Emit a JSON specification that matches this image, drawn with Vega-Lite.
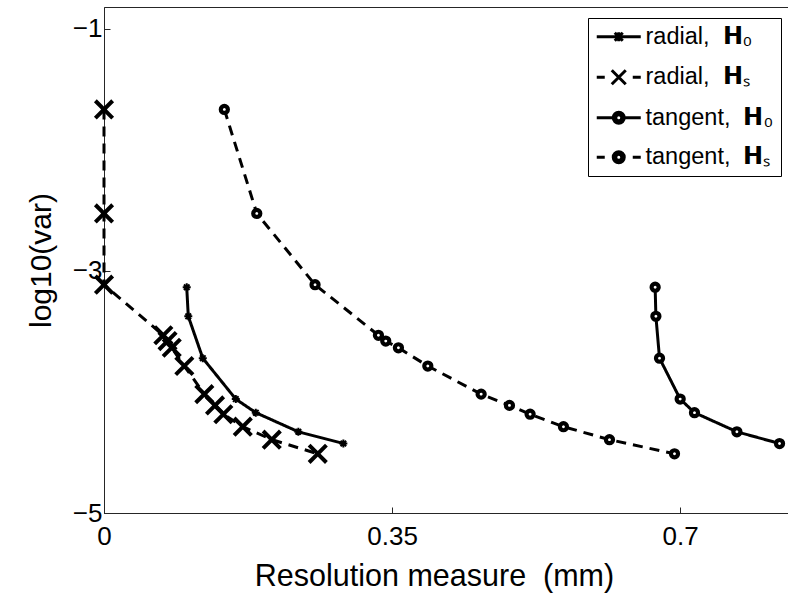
{
  "$schema": "https://vega.github.io/schema/vega-lite/v6.json",
  "width": 684,
  "height": 506,
  "autosize": {"type": "none"},
  "padding": {"left": 104, "top": 7, "right": 0, "bottom": 84},
  "background": "white",
  "config": {
    "view": {"stroke": "#262626", "strokeWidth": 1},
    "font": "Liberation Sans",
    "axis": {
      "domainColor": "#262626", "tickColor": "#262626", "labelColor": "black", "titleColor": "black",
      "labelFont": "Liberation Sans", "titleFont": "Liberation Sans", "labelFontSize": 26, "titleFontSize": 30,
      "titleFontWeight": "normal", "grid": false, "tickSize": -6, "labelPadding": 8
    }
  },
  "data": {"values": [
    {"series": "rH0", "i": 1, "x": 0.1005, "y": -3.135},
    {"series": "rH0", "i": 2, "x": 0.1024, "y": -3.375},
    {"series": "rH0", "i": 3, "x": 0.1200, "y": -3.721},
    {"series": "rH0", "i": 4, "x": 0.1601, "y": -4.059},
    {"series": "rH0", "i": 5, "x": 0.1844, "y": -4.171},
    {"series": "rH0", "i": 6, "x": 0.2361, "y": -4.329},
    {"series": "rH0", "i": 7, "x": 0.2908, "y": -4.426},
    {"series": "rHs", "i": 1, "x": 0.0, "y": -1.666},
    {"series": "rHs", "i": 2, "x": 0.0, "y": -2.525},
    {"series": "rHs", "i": 3, "x": 0.0, "y": -3.114},
    {"series": "rHs", "i": 4, "x": 0.0721, "y": -3.532},
    {"series": "rHs", "i": 5, "x": 0.0772, "y": -3.580},
    {"series": "rHs", "i": 6, "x": 0.0823, "y": -3.635},
    {"series": "rHs", "i": 7, "x": 0.0976, "y": -3.786},
    {"series": "rHs", "i": 8, "x": 0.1219, "y": -4.018},
    {"series": "rHs", "i": 9, "x": 0.1349, "y": -4.111},
    {"series": "rHs", "i": 10, "x": 0.1450, "y": -4.184},
    {"series": "rHs", "i": 11, "x": 0.1686, "y": -4.287},
    {"series": "rHs", "i": 12, "x": 0.2038, "y": -4.394},
    {"series": "rHs", "i": 13, "x": 0.2597, "y": -4.511},
    {"series": "tH0", "i": 1, "x": 0.6696, "y": -3.135},
    {"series": "tH0", "i": 2, "x": 0.6705, "y": -3.375},
    {"series": "tH0", "i": 3, "x": 0.6749, "y": -3.721},
    {"series": "tH0", "i": 4, "x": 0.7000, "y": -4.059},
    {"series": "tH0", "i": 5, "x": 0.7174, "y": -4.171},
    {"series": "tH0", "i": 6, "x": 0.7689, "y": -4.329},
    {"series": "tH0", "i": 7, "x": 0.8207, "y": -4.426},
    {"series": "tHs", "i": 1, "x": 0.1462, "y": -1.666},
    {"series": "tHs", "i": 2, "x": 0.1856, "y": -2.525},
    {"series": "tHs", "i": 3, "x": 0.2564, "y": -3.114},
    {"series": "tHs", "i": 4, "x": 0.3334, "y": -3.532},
    {"series": "tHs", "i": 5, "x": 0.3423, "y": -3.580},
    {"series": "tHs", "i": 6, "x": 0.3577, "y": -3.635},
    {"series": "tHs", "i": 7, "x": 0.3934, "y": -3.786},
    {"series": "tHs", "i": 8, "x": 0.4582, "y": -4.018},
    {"series": "tHs", "i": 9, "x": 0.4926, "y": -4.111},
    {"series": "tHs", "i": 10, "x": 0.5177, "y": -4.184},
    {"series": "tHs", "i": 11, "x": 0.5582, "y": -4.287},
    {"series": "tHs", "i": 12, "x": 0.6141, "y": -4.394},
    {"series": "tHs", "i": 13, "x": 0.6931, "y": -4.511}
  ]},
  "resolve": {"scale": {"shape": "independent"}, "legend": {"shape": "independent"}},
  "layer": [
    {
      "mark": {"type": "line", "strokeWidth": 3, "color": "black"},
      "encoding": {
        "x": {"field": "x", "type": "quantitative", "scale": {"domain": [0, 0.831], "nice": false, "zero": false},
              "axis": {"values": [0, 0.35, 0.7], "format": ".2~f", "title": "Resolution measure\u00a0\u00a0(mm)", "titleFontSize": 30.5, "titleX": 330, "titlePadding": 12, "labelPadding": 16, "labelFlush": false}},
        "y": {"field": "y", "type": "quantitative", "scale": {"domain": [-5, -0.82], "nice": false, "zero": false},
              "axis": {"values": [-1, -3, -5], "format": ".0f", "title": "log10(var)", "titlePadding": 16}},
        "detail": {"field": "series"},
        "order": {"field": "i", "type": "quantitative"},
        "strokeDash": {"field": "series", "type": "nominal",
          "scale": {"domain": ["rH0", "rHs", "tH0", "tHs"], "range": [[1, 0], [10, 7], [1, 0], [10, 7]]},
          "legend": null}
      }
    },
    {
      "transform": [{"filter": "datum.series == 'rH0'"}],
      "mark": {"type": "point", "shape": "M-1,0H1M0,-1V1M-0.7,-0.7L0.7,0.7M-0.7,0.7L0.7,-0.7", "size": 64, "filled": false, "stroke": "black", "strokeWidth": 2, "opacity": 1, "clip": false},
      "encoding": {"x": {"field": "x", "type": "quantitative"}, "y": {"field": "y", "type": "quantitative"}}
    },
    {
      "transform": [{"filter": "datum.series == 'rHs'"}],
      "mark": {"type": "point", "shape": "M-1,-1L1,1M-1,1L1,-1", "size": 300, "filled": false, "stroke": "black", "strokeWidth": 4, "opacity": 1, "clip": false},
      "encoding": {"x": {"field": "x", "type": "quantitative"}, "y": {"field": "y", "type": "quantitative"}}
    },
    {
      "transform": [{"filter": "datum.series == 'tH0' || datum.series == 'tHs'"}],
      "mark": {"type": "point", "shape": "circle", "size": 50, "filled": true, "fill": "white", "stroke": "black", "strokeWidth": 4.2, "opacity": 1, "clip": false},
      "encoding": {"x": {"field": "x", "type": "quantitative"}, "y": {"field": "y", "type": "quantitative"}}
    },
    {
      "transform": [{"filter": "datum.x > 5"}],
      "mark": {"type": "point", "filled": false, "stroke": "black", "strokeWidth": 3, "opacity": 1},
      "encoding": {
        "shape": {"field": "series", "type": "nominal",
          "scale": {"domain": ["rH0", "rHs", "tH0", "tHs"],
                    "range": [
                      "M-4.4,0H4.4M-0.8,-0.8L0.8,0.8M-0.8,0.8L0.8,-0.8M0,-0.9V0.9",
                      "M-4.4,0H-2.8M2.8,0H4.4M-1.4,-1.4L1.4,1.4M-1.4,1.4L1.4,-1.4",
                      "M-4.4,0H-1.1M1.1,0H4.4M-1.1,0A1.1,1.1,0,1,0,1.1,0A1.1,1.1,0,1,0,-1.1,0ZM-0.6,0A0.6,0.6,0,1,0,0.6,0A0.6,0.6,0,1,0,-0.6,0Z",
                      "M-4.4,0H-2.8M2.8,0H4.4M-1.1,0A1.1,1.1,0,1,0,1.1,0A1.1,1.1,0,1,0,-1.1,0ZM-0.6,0A0.6,0.6,0,1,0,0.6,0A0.6,0.6,0,1,0,-0.6,0Z"
                    ]},
          "legend": {
            "title": null, "orient": "none", "legendX": 484, "legendY": 11, "padding": 7,
            "strokeColor": "black", "fillColor": "white", "cornerRadius": 0,
            "symbolSize": 100, "symbolStrokeWidth": 3, "symbolOffset": 12, "labelOffset": 15,
            "labelFont": "Liberation Sans", "labelFontSize": 23.5, "labelColor": "black", "labelLimit": 400,
            "rowPadding": 14.5,
            "labelExpr": "datum.label == 'rH0' ? 'radial,\u00a0\u00a0𝗛₀' : datum.label == 'rHs' ? 'radial,\u00a0\u00a0𝗛ₛ' : datum.label == 'tH0' ? 'tangent,\u00a0\u00a0𝗛₀' : 'tangent,\u00a0\u00a0𝗛ₛ'"
          }
        }
      }
    }
  ]
}
